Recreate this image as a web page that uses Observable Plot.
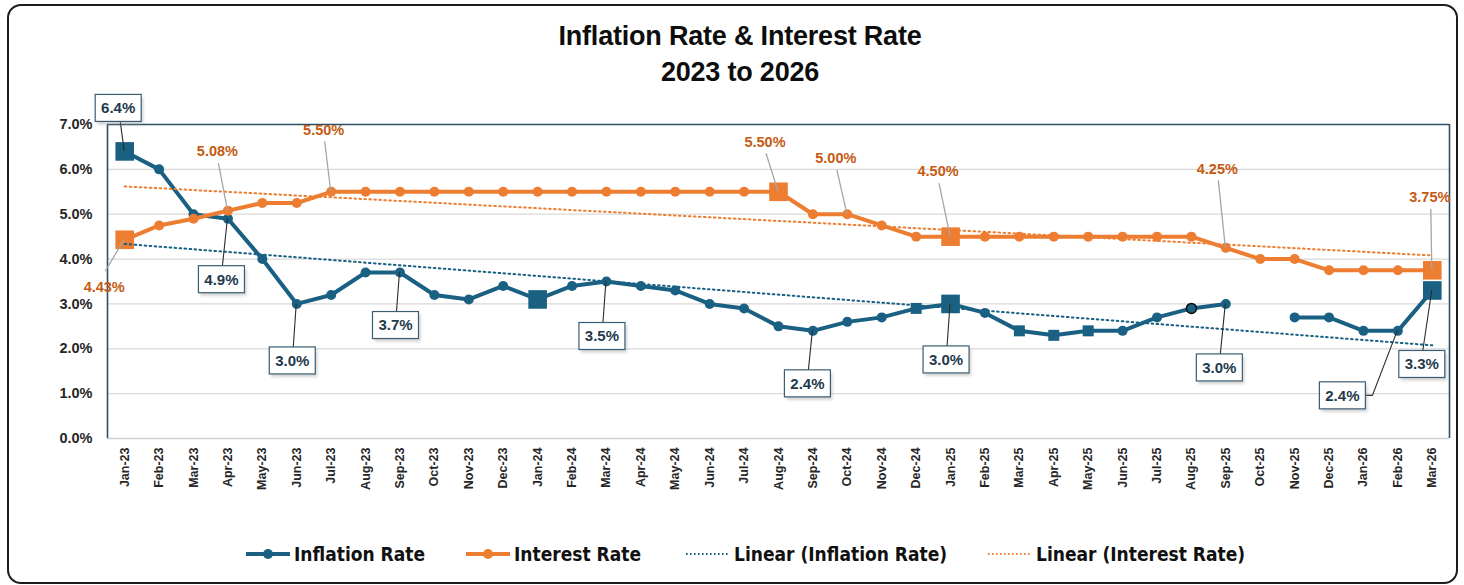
<!DOCTYPE html>
<html>
<head>
<meta charset="utf-8">
<script src="https://cdn.jsdelivr.net/npm/d3@7"></script>
<script src="https://cdn.jsdelivr.net/npm/@observablehq/plot@0.6"></script>
<style>
  html, body { margin: 0; padding: 0; background: #ffffff; }
  body { width: 1464px; height: 585px; position: relative; overflow: hidden; font-family: "Liberation Sans", Arial, sans-serif; }
  #card { position: absolute; left: 7px; top: 4px; width: 1447px; height: 576px; border: 2px solid #1c1c1c; border-radius: 14px; background: #fff; }
  #title { position: absolute; left: 8px; top: 18px; width: 1464px; text-align: center; font-weight: bold; font-size: 27px; line-height: 36px; color: #0d0d0d; letter-spacing: -0.2px; }
  #chart { position: absolute; left: 0; top: 90px; }
  #legend { position: absolute; left: 0; top: 541px; width: 1464px; height: 26px; font-family: "DejaVu Sans Condensed", "DejaVu Sans", sans-serif; font-stretch: condensed; font-weight: bold; font-size: 19px; color: #111; white-space: nowrap; }
  .item { position: absolute; top: 0; height: 26px; display: flex; align-items: center; }
  .item svg { margin-right: 4px; }
</style>
</head>
<body>
<div id="card"></div>
<div id="title">Inflation Rate &amp; Interest Rate<br>2023 to 2026</div>
<div id="chart"></div>
<div id="legend"></div>
<script>
// ---------- data ----------
const months = ["Jan-23","Feb-23","Mar-23","Apr-23","May-23","Jun-23","Jul-23","Aug-23","Sep-23","Oct-23","Nov-23","Dec-23",
  "Jan-24","Feb-24","Mar-24","Apr-24","May-24","Jun-24","Jul-24","Aug-24","Sep-24","Oct-24","Nov-24","Dec-24",
  "Jan-25","Feb-25","Mar-25","Apr-25","May-25","Jun-25","Jul-25","Aug-25","Sep-25","Oct-25","Nov-25","Dec-25",
  "Jan-26","Feb-26","Mar-26"];
const inflation = [6.4,6.0,5.0,4.9,4.0,3.0,3.2,3.7,3.7,3.2,3.1,3.4,
  3.1,3.4,3.5,3.4,3.3,3.0,2.9,2.5,2.4,2.6,2.7,2.9,
  3.0,2.8,2.4,2.3,2.4,2.4,2.7,2.9,3.0,null,2.7,2.7,
  2.4,2.4,3.3];
const interest = [4.43,4.75,4.90,5.08,5.25,5.25,5.50,5.50,5.50,5.50,5.50,5.50,
  5.50,5.50,5.50,5.50,5.50,5.50,5.50,5.50,5.00,5.00,4.75,4.50,
  4.50,4.50,4.50,4.50,4.50,4.50,4.50,4.50,4.25,4.00,4.00,3.75,
  3.75,3.75,3.75];
const yTicks = [0,1,2,3,4,5,6,7];
const seriesNames = ["Inflation Rate","Interest Rate","Linear (Inflation Rate)","Linear (Interest Rate)"];

// ---------- styling / annotation layout ----------
const BLUE = "#1a6083", ORANGE = "#ed7d31", ORANGE_TXT = "#c55a11";
const inflBigSquares = [0,12,24,38];
const inflSmallSquares = [23,26,27,28];
const inflRinged = [31];
const intBigSquares = [0,19,24,38];
// label offsets in pixels from the data point
const inflLabels = [
  {i:0, dx:-6, dy:-43}, {i:3, dx:-6, dy:61}, {i:5, dx:-4, dy:57}, {i:8, dx:-4, dy:53},
  {i:14, dx:-4, dy:55}, {i:20, dx:-5, dy:53}, {i:24, dx:-4, dy:56}, {i:32, dx:-6, dy:64},
  {i:37, dx:-55, dy:65, elbow:true}, {i:38, dx:-10, dy:74}
];
const intLabels = [
  {i:0, dx:-20, dy:47}, {i:3, dx:-10, dy:-59}, {i:6, dx:-7, dy:-62}, {i:19, dx:-13, dy:-50},
  {i:21, dx:-11, dy:-56}, {i:24, dx:-12, dy:-65}, {i:32, dx:-8, dy:-79}, {i:38, dx:-2, dy:-73}
];

const rows = months.map((m, i) => ({i, month: m, inflation: inflation[i], interest: interest[i]}));
const inflRows = rows.filter(d => d.inflation != null);

function annotations(index, scales) {
  const {x, y} = scales;
  const g = d3.create("svg:g");
  const W = 46, H = 27;
  const defs = g.append("defs");
  defs.append("filter").attr("id", "blur").append("feGaussianBlur").attr("stdDeviation", 1.5);
  // inflation boxed labels
  for (const L of inflLabels) {
    const v = inflation[L.i];
    const px = x(L.i), py = y(v);
    const cx = px + L.dx, cy = py + L.dy;
    let path;
    if (L.elbow) {
      path = `M${px},${py}L${cx + W/2 + 7},${cy}L${cx + W/2},${cy}`;
    } else if (L.dy < 0) {
      path = `M${px},${py}L${cx + 2},${cy + H/2}`;
    } else {
      path = `M${px},${py}L${cx + 1},${cy - H/2}`;
    }
    g.append("path").attr("d", path).attr("fill", "none").attr("stroke", "#2b2b2b").attr("stroke-width", 1.1);
    g.append("rect").attr("x", cx - W/2 + 2).attr("y", cy - H/2 + 3).attr("width", W).attr("height", H)
      .attr("fill", "#9a9a9a").attr("opacity", 0.45).attr("filter", "url(#blur)");
    g.append("rect").attr("x", cx - W/2).attr("y", cy - H/2).attr("width", W).attr("height", H)
      .attr("fill", "#fff").attr("stroke", "#3b5d74").attr("stroke-width", 1.2);
    g.append("text").attr("x", cx).attr("y", cy).attr("dy", "0.36em").attr("text-anchor", "middle")
      .attr("font-weight", "bold").attr("font-size", 15).attr("fill", "#1f3a4d").text(v.toFixed(1) + "%");
  }
  // interest plain labels
  for (const L of intLabels) {
    const v = interest[L.i];
    const px = x(L.i), py = y(v);
    const cx = px + L.dx, cy = py + L.dy;
    const sy = L.dy < 0 ? cy + 12 : cy - 15;
    g.append("path").attr("d", `M${cx + 1},${sy}L${px},${py}`).attr("stroke", "#a6a6a6").attr("stroke-width", 1.3).attr("fill", "none");
    g.append("text").attr("x", cx).attr("y", cy).attr("dy", "0.36em").attr("text-anchor", "middle")
      .attr("font-weight", "bold").attr("font-size", 14.5).attr("fill", ORANGE_TXT).text(v.toFixed(2) + "%");
  }
  return g.node();
}

const chart = Plot.plot({
  width: 1464,
  height: 435,
  marginLeft: 107,
  marginRight: 15,
  marginTop: 34,
  marginBottom: 87,
  style: {fontFamily: "'Liberation Sans', Arial, sans-serif", color: "#262626", background: "transparent"},
  x: {type: "linear", domain: [-0.5, 38.5], label: null},
  y: {domain: [0, 7], label: null},
  marks: [
    Plot.ruleY([1,2,3,4,5,6], {stroke: "#d9d9d9", strokeWidth: 1.3}),
    Plot.ruleY([0], {stroke: "#cfcfcf", strokeWidth: 1.6}),
    Plot.ruleY([7], {stroke: "#2f4f66", strokeWidth: 1.6}),
    Plot.ruleX([-0.5, 38.5], {stroke: "#2f4f66", strokeWidth: 1.6}),
    Plot.axisY(yTicks, {label: null, tickSize: 0, tickPadding: 15, fontSize: 14.5, fontWeight: "bold", tickFormat: d => d.toFixed(1) + "%", fill: "#262626"}),
    Plot.axisX(d3.range(months.length), {label: null, tickSize: 0, tickPadding: 9, tickRotate: -90, fontSize: 12.5, fontWeight: "bold", tickFormat: i => months[i], fill: "#262626"}),
    Plot.line(rows, {x: "i", y: "inflation", stroke: BLUE, strokeWidth: 4, strokeLinejoin: "round"}),
    Plot.dot(inflRows.filter(d => !inflBigSquares.includes(d.i) && !inflSmallSquares.includes(d.i)), {x: "i", y: "inflation", r: 5, fill: BLUE, stroke: d => inflRinged.includes(d.i) ? "#111" : "none", strokeWidth: 1.5}),
    Plot.dot(inflRows.filter(d => inflSmallSquares.includes(d.i)), {x: "i", y: "inflation", symbol: "square", r: 6.2, fill: BLUE}),
    Plot.dot(inflRows.filter(d => inflBigSquares.includes(d.i)), {x: "i", y: "inflation", symbol: "square", r: 10.5, fill: BLUE}),
    Plot.line(rows, {x: "i", y: "interest", stroke: ORANGE, strokeWidth: 4, strokeLinejoin: "round"}),
    Plot.dot(rows.filter(d => !intBigSquares.includes(d.i)), {x: "i", y: "interest", r: 5, fill: ORANGE}),
    Plot.dot(rows.filter(d => intBigSquares.includes(d.i)), {x: "i", y: "interest", symbol: "square", r: 10.5, fill: ORANGE}),
    Plot.linearRegressionY(inflRows, {x: "i", y: "inflation", ci: 0, stroke: BLUE, strokeWidth: 2, strokeDasharray: "1.6,3.4"}),
    Plot.linearRegressionY(rows, {x: "i", y: "interest", ci: 0, stroke: ORANGE, strokeWidth: 2, strokeDasharray: "1.6,3.4"}),
    annotations
  ]
});
document.getElementById("chart").appendChild(chart);

// ---------- legend ----------
const legend = d3.select("#legend");
const legendSpecs = [
  {name: seriesNames[0], color: BLUE, dotted: false, left: 246},
  {name: seriesNames[1], color: ORANGE, dotted: false, left: 466},
  {name: seriesNames[2], color: BLUE, dotted: true, left: 686},
  {name: seriesNames[3], color: ORANGE, dotted: true, left: 988}
];
for (const s of legendSpecs) {
  const item = legend.append("div").attr("class", "item").style("left", s.left + "px");
  const sw = item.append("svg").attr("width", 44).attr("height", 14);
  if (s.dotted) {
    sw.append("line").attr("x1", 0).attr("x2", 44).attr("y1", 7).attr("y2", 7)
      .attr("stroke", s.color).attr("stroke-width", 2).attr("stroke-dasharray", "1.6,2.4");
  } else {
    sw.append("line").attr("x1", 0).attr("x2", 44).attr("y1", 7).attr("y2", 7)
      .attr("stroke", s.color).attr("stroke-width", 4).attr("stroke-linecap", "round");
    sw.append("circle").attr("cx", 22).attr("cy", 7).attr("r", 5).attr("fill", s.color);
  }
  item.append("span").text(s.name);
}
</script>
</body>
</html>
